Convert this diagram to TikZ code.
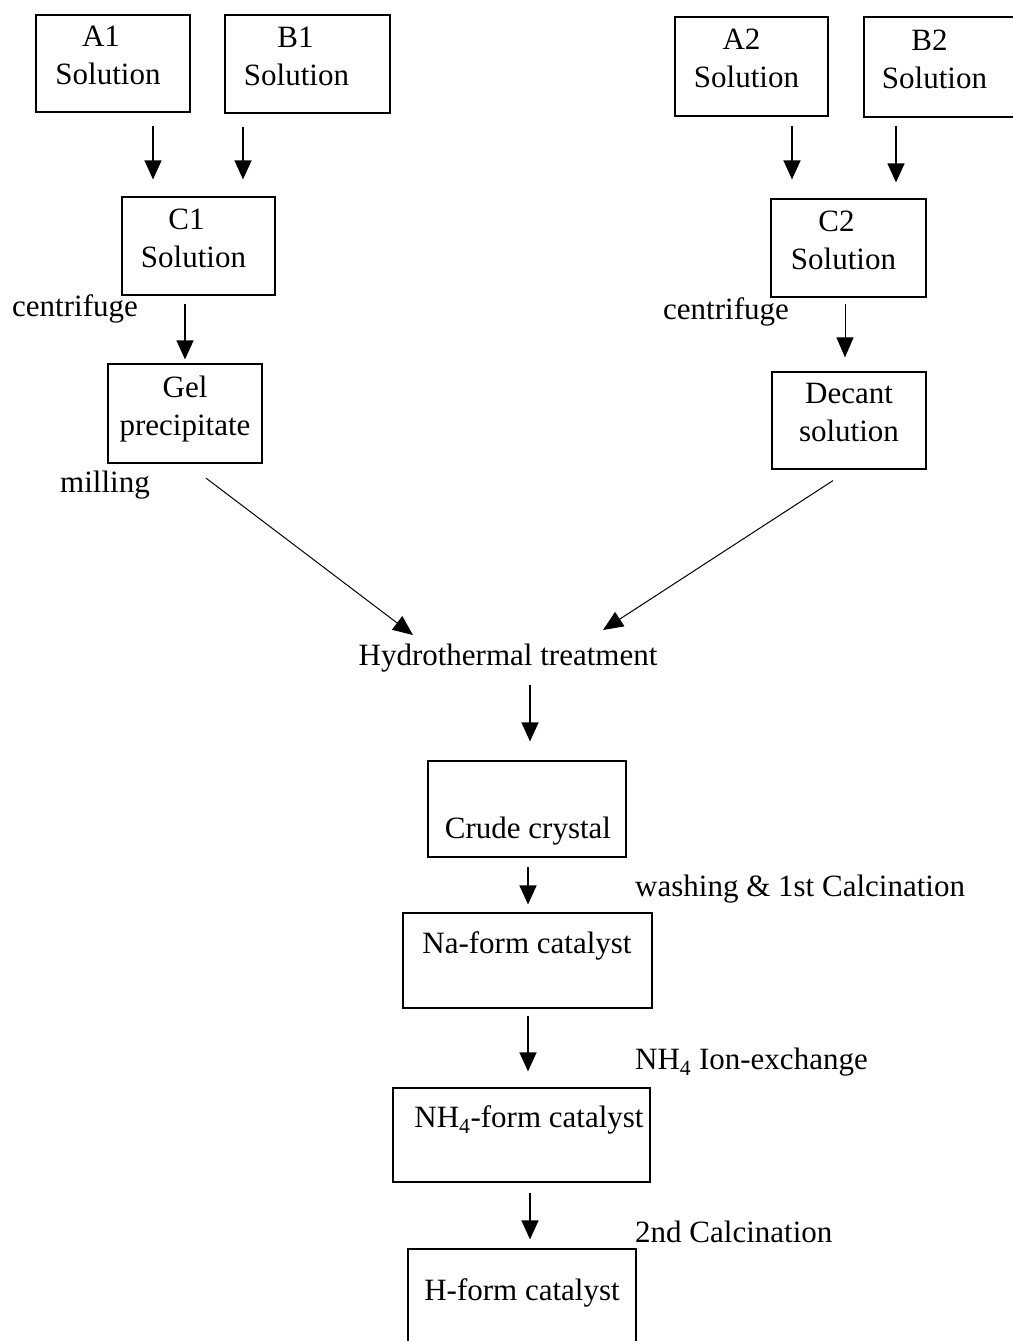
\documentclass[tikz,border=0pt]{standalone}
\usepackage{fontspec}
\setmainfont{Liberation Serif}
\usetikzlibrary{arrows.meta,calc}
\newcommand{\lowstrut}{\rule[-16pt]{0pt}{0pt}}
\begin{document}
\begin{tikzpicture}[x=1pt,y=-1pt,
  box/.style={draw, line width=1.2pt, inner sep=0pt, align=center,
              font=\fontsize{31}{38}\selectfont},
  txt/.style={font=\fontsize{31}{38}\selectfont, inner sep=0pt, align=center},
  arr/.style={line width=1.3pt, -{Triangle[length=19pt,width=17pt]}},
  darr/.style={line width=1pt, -{Triangle[length=20pt,width=17pt]}}]
\useasboundingbox (0,0) rectangle (1012,1341);
% left branch
\node[box, minimum width=154pt, minimum height=97pt] (a1) at (113,63.5) {A1\hspace*{24pt}\\Solution\hspace*{10pt}\lowstrut};
\node[box, minimum width=165pt, minimum height=98pt] (b1) at (307.5,64) {B1\hspace*{24pt}\\Solution\hspace*{22pt}\lowstrut};
\node[box, minimum width=153pt, minimum height=98pt] (c1) at (198.5,246) {C1\hspace*{24pt}\\Solution\hspace*{10pt}\lowstrut};
\node[box, minimum width=154pt, minimum height=99pt] (gel) at (185,413.5) {Gel\\precipitate\lowstrut};
% right branch
\node[box, minimum width=153pt, minimum height=99pt] (a2) at (751.5,66.5) {A2\hspace*{20pt}\\Solution\hspace*{10pt}\lowstrut};
\node[box, minimum width=151pt, minimum height=100pt] (b2) at (939.5,67) {B2\hspace*{20pt}\\Solution\hspace*{10pt}\lowstrut};
\node[box, minimum width=155pt, minimum height=98pt] (c2) at (848.5,248) {C2\hspace*{24pt}\\Solution\hspace*{10pt}\lowstrut};
\node[box, minimum width=154pt, minimum height=97pt] (dec) at (849,420.5) {Decant\\solution\lowstrut};
% centre column
\node[txt] (hyd) at (508,658) {Hydrothermal treatment};
\node[box, minimum width=198pt, minimum height=96pt] (crude) at (527,809) {};
\node[txt] (crudet) at (528,831) {Crude crystal};
\node[box, minimum width=249pt, minimum height=95pt] (na) at (527.5,960.5) {};
\node[txt] (nat) at (527,946) {Na-form catalyst};
\node[box, minimum width=257pt, minimum height=94pt] (nh) at (521.5,1135) {};
\node[txt] (nht) at (529,1120) {NH\textsubscript{4}-form catalyst};
\node[box, minimum width=228pt, minimum height=96pt] (hf) at (522,1297) {};
\node[txt] (hft) at (522,1293) {H-form catalyst};
% step labels
\node[txt, anchor=mid west] (cf1) at (12,314) {centrifuge};
\node[txt, anchor=mid west] (cf2) at (663,317) {centrifuge};
\node[txt, anchor=mid west] (mil) at (60,490) {milling};
\node[txt, anchor=mid west] (wash) at (635,894) {washing \& 1st Calcination};
\node[txt, anchor=mid west] (ion) at (635,1067) {NH\textsubscript{4} Ion-exchange};
\node[txt, anchor=mid west] (cal2) at (635,1240) {2nd Calcination};
% connectors
\draw[arr] ($(a1.south)+(40,13)$) -- ($(c1.north)+(-45.5,-17)$);
\draw[arr] ($(b1.south)+(-64.5,13)$) -- ($(c1.north)+(44.5,-17)$);
\draw[arr] ($(c1.south)+(-13.5,8)$) -- ($(gel.north)+(0,-4)$);
\draw[arr] ($(a2.south)+(40.5,9)$) -- ($(c2.north)+(-56.5,-19)$);
\draw[arr] ($(b2.south)+(-43.5,8)$) -- ($(c2.north)+(47.5,-16)$);
\draw[darr] ($(c2.south)+(-3.5,6)$) -- ($(dec.north)+(-4,-14)$);
\draw[darr] ($(gel.south)+(21,14.5)$) -- ($(hyd)+(-95,-23)$);
\draw[darr] ($(dec.south)+(-16,11)$) -- ($(hyd)+(95,-28)$);
\draw[arr] ($(hyd)+(22,27)$) -- ($(crude.north)+(3,-19)$);
\draw[arr] ($(crude.south)+(1,9)$) -- ($(na.north)+(0.5,-8)$);
\draw[arr] ($(na.south)+(0.5,7)$) -- ($(nh.north)+(6.5,-16)$);
\draw[arr] ($(nh.south)+(8.5,10)$) -- ($(hf.north)+(8,-9)$);
\end{tikzpicture}
\end{document}
